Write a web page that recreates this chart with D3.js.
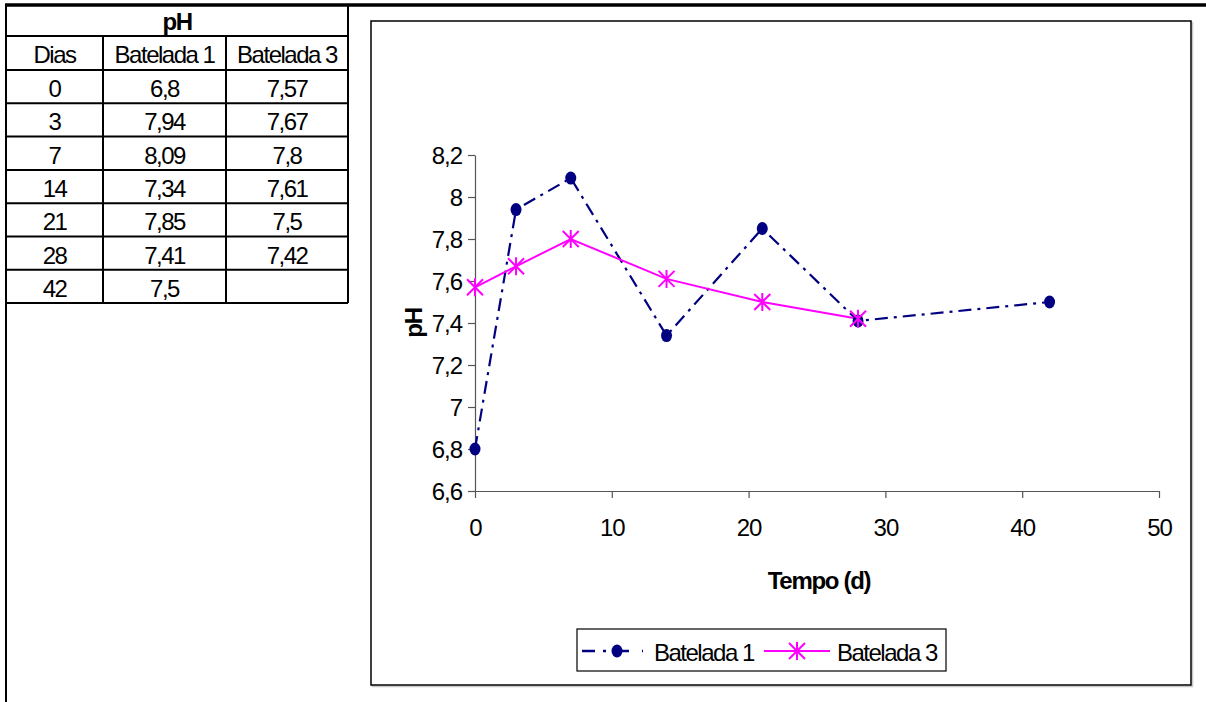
<!DOCTYPE html>
<html><head><meta charset="utf-8">
<script src="https://cdn.jsdelivr.net/npm/d3@7"></script>
<style>
html,body{margin:0;padding:0;background:#fff;}
svg{display:block;font-family:"Liberation Sans",Arial,sans-serif;}
</style></head>
<body>
<svg id="c" width="1206" height="702"></svg>
<script>
const dias = [0, 3, 7, 14, 21, 28, 42];
const batelada1 = [6.8, 7.94, 8.09, 7.34, 7.85, 7.41, 7.5];
const batelada3 = [7.57, 7.67, 7.8, 7.61, 7.5, 7.42, null];
const seriesNames = ["Batelada 1", "Batelada 3"];
const yTicks = [6.6, 6.8, 7, 7.2, 7.4, 7.6, 7.8, 8, 8.2];
const xTicks = [0, 10, 20, 30, 40, 50];
const tableTitle = "pH";
const headers = ["Dias", "Batelada 1", "Batelada 3"];
const xTitle = "Tempo (d)";
const yTitle = "pH";

const svg = d3.select("#c");
const comma = v => (v == null ? "" : String(+v.toFixed(2)).replace(".", ","));

// ---- sheet frame ----
svg.append("line").attr("x1", 5).attr("x2", 1206).attr("y1", 5).attr("y2", 5)
  .attr("stroke", "#000").attr("stroke-width", 3.5);
svg.append("line").attr("x1", 6).attr("x2", 6).attr("y1", 4).attr("y2", 702)
  .attr("stroke", "#000").attr("stroke-width", 2);

// ---- table ----
const colX = [6, 103, 226, 348];
const rowTop = 70, rowH = 33.3;
const tg = svg.append("g");
const nRows = dias.length;
const tableBottom = rowTop + nRows * rowH;
tg.append("line").attr("x1", 6).attr("x2", 348).attr("y1", 36).attr("y2", 36).attr("stroke", "#000").attr("stroke-width", 2);
d3.range(nRows + 1).forEach(i => {
  tg.append("line").attr("x1", 6).attr("x2", 348)
    .attr("y1", rowTop + i * rowH).attr("y2", rowTop + i * rowH)
    .attr("stroke", "#000").attr("stroke-width", 2);
});
[103, 226].forEach(xx => tg.append("line").attr("x1", xx).attr("x2", xx).attr("y1", 36).attr("y2", tableBottom).attr("stroke", "#000").attr("stroke-width", 2));
tg.append("line").attr("x1", 348).attr("x2", 348).attr("y1", 5).attr("y2", tableBottom).attr("stroke", "#000").attr("stroke-width", 2);

tg.append("text").attr("x", 177).attr("y", 21).attr("text-anchor", "middle").attr("dominant-baseline", "central")
  .attr("font-size", 24).attr("font-weight", "bold").attr("letter-spacing", -1.5).text(tableTitle);
const txtStyle = s => s.attr("text-anchor", "middle").attr("dominant-baseline", "central")
  .attr("font-size", 24).attr("letter-spacing", -1.5).attr("fill", "#000");
headers.forEach((h, j) => {
  tg.append("text").attr("x", (colX[j] + colX[j + 1]) / 2).attr("y", 54).call(txtStyle).text(h);
});
dias.forEach((d, i) => {
  const cy = rowTop + i * rowH + rowH / 2 + 2;
  [String(d), comma(batelada1[i]), comma(batelada3[i])].forEach((t, j) => {
    tg.append("text").attr("x", (colX[j] + colX[j + 1]) / 2).attr("y", cy).call(txtStyle).text(t);
  });
});

// ---- chart box ----
svg.append("rect").attr("x", 372.5).attr("y", 22.5).attr("width", 820).attr("height", 664)
  .attr("fill", "none").attr("stroke", "#c8c8c8").attr("stroke-width", 1.5);
svg.append("rect").attr("x", 371).attr("y", 21).attr("width", 820).attr("height", 664)
  .attr("fill", "#fff").attr("stroke", "#000").attr("stroke-width", 1.5);

const x = d3.scaleLinear().domain([0, 50]).range([475, 1159]);
const y = d3.scaleLinear().domain([6.6, 8.2]).range([491, 155]);

const gx = svg.append("g").attr("transform", `translate(0,${y(6.6)})`)
  .call(d3.axisBottom(x).tickValues(xTicks).tickSize(7).tickSizeOuter(0).tickPadding(21).tickFormat(d => d));
const gy = svg.append("g").attr("transform", `translate(${x(0)},0)`)
  .call(d3.axisLeft(y).tickValues(yTicks).tickSize(7).tickSizeOuter(0).tickPadding(6).tickFormat(d => comma(d)));
[gx, gy].forEach(g => {
  g.select(".domain").attr("stroke", "#555").attr("stroke-width", 1.2);
  g.selectAll(".tick line").attr("stroke", "#555").attr("stroke-width", 1.2);
  g.selectAll(".tick text").attr("font-size", 24).attr("fill", "#000").attr("letter-spacing", -1)
    .attr("font-family", '"Liberation Sans",Arial,sans-serif');
});
gy.selectAll(".tick text").attr("dy", "0.35em");

svg.append("text").attr("x", 819).attr("y", 580).attr("text-anchor", "middle").attr("dominant-baseline", "central")
  .attr("font-size", 24).attr("font-weight", "bold").attr("letter-spacing", -1.3).text(xTitle);
svg.append("text").attr("transform", `translate(413,323) rotate(-90)`).attr("text-anchor", "middle").attr("dominant-baseline", "central")
  .attr("font-size", 24).attr("font-weight", "bold").attr("letter-spacing", -1.3).text(yTitle);

// ---- series ----
const navy = "#000080", mag = "#ff00ff";
const d1 = dias.map((d, i) => ({x: d, y: batelada1[i]}));
const d3s = dias.map((d, i) => ({x: d, y: batelada3[i]})).filter(p => p.y != null);
const line = d3.line().x(p => x(p.x)).y(p => y(p.y));

svg.append("path").datum(d1).attr("d", line).attr("fill", "none").attr("stroke", navy)
  .attr("stroke-width", 2.2).attr("stroke-dasharray", "13,6,3,6");
svg.append("path").datum(d3s).attr("d", line).attr("fill", "none").attr("stroke", mag).attr("stroke-width", 2);

function star(g, cx, cy) {
  const s = 8;
  g.append("path").attr("d", `M${cx},${cy - s - 1}L${cx},${cy + s + 1}M${cx - s},${cy - s}L${cx + s},${cy + s}M${cx - s},${cy + s}L${cx + s},${cy - s}`)
    .attr("stroke", mag).attr("stroke-width", 2).attr("fill", "none");
}
function dot(g, cx, cy) {
  g.append("ellipse").attr("cx", cx).attr("cy", cy).attr("rx", 5.5).attr("ry", 6.5).attr("fill", navy);
}
const mg = svg.append("g");
d1.forEach(p => dot(mg, x(p.x), y(p.y)));
d3s.forEach(p => star(mg, x(p.x), y(p.y)));

// ---- legend ----
const lg = svg.append("g");
lg.append("rect").attr("x", 577).attr("y", 629).attr("width", 369).attr("height", 42)
  .attr("fill", "#fff").attr("stroke", "#000").attr("stroke-width", 1.2);
const ly = 651;
lg.append("line").attr("x1", 582).attr("x2", 643).attr("y1", ly).attr("y2", ly)
  .attr("stroke", navy).attr("stroke-width", 2.5).attr("stroke-dasharray", "13,8,3,4,0,6,13");
dot(lg, 617, ly);
lg.append("text").attr("x", 654).attr("y", ly + 1).attr("dominant-baseline", "central").attr("font-size", 24)
  .attr("letter-spacing", -1.5).text(seriesNames[0]);
lg.append("line").attr("x1", 764).attr("x2", 830).attr("y1", ly).attr("y2", ly).attr("stroke", mag).attr("stroke-width", 2);
star(lg, 797, ly);
lg.append("text").attr("x", 837).attr("y", ly + 1).attr("dominant-baseline", "central").attr("font-size", 24)
  .attr("letter-spacing", -1.5).text(seriesNames[1]);
</script>
</body></html>
